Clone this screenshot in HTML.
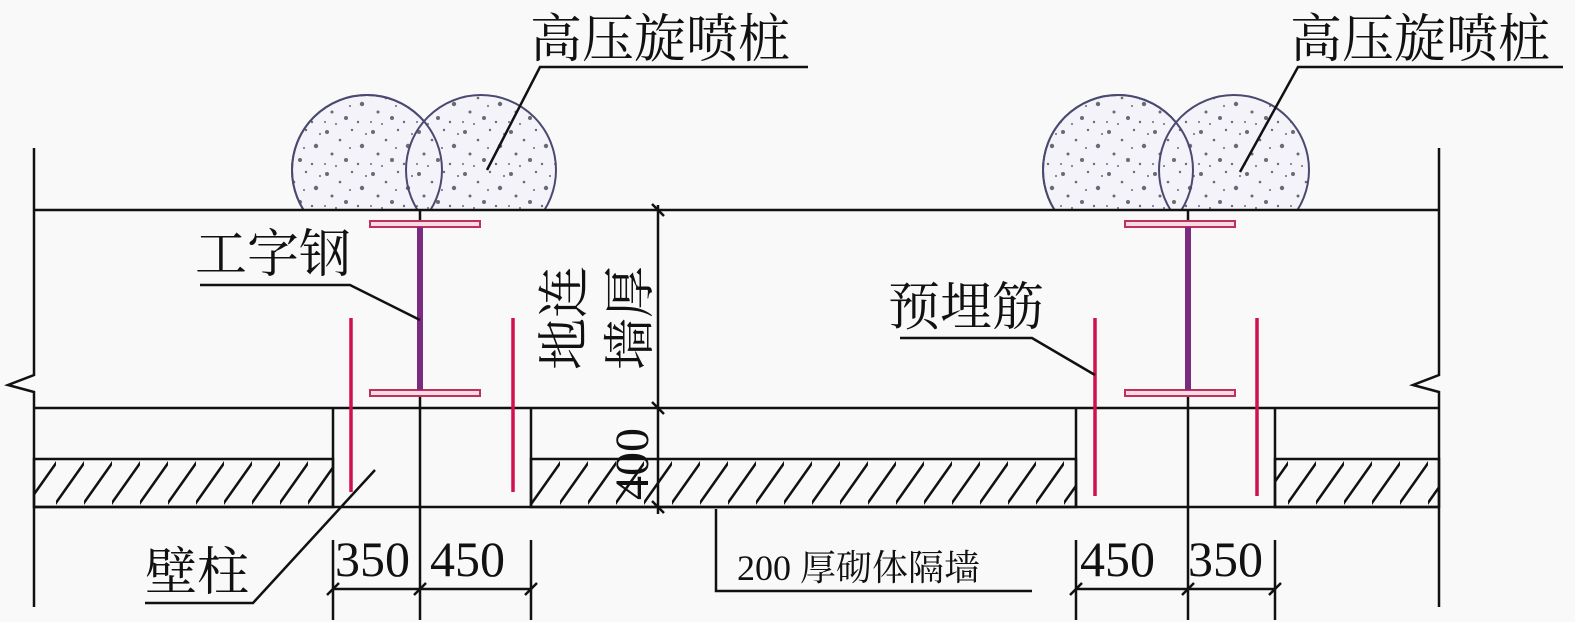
<!DOCTYPE html>
<html><head><meta charset="utf-8"><style>
html,body{margin:0;padding:0;background:#f9f9f9;}
svg{display:block;}
text{font-family:"Liberation Serif","Noto Serif CJK SC",serif;fill:#111;}
</style></head><body>
<svg width="1575" height="622" viewBox="0 0 1575 622" xmlns="http://www.w3.org/2000/svg">
<defs>
<pattern id="h" patternUnits="userSpaceOnUse" width="28" height="48" x="0" y="459">
<line x1="-10" y1="58" x2="38" y2="-10" stroke="#111" stroke-width="2.5"/>
</pattern>
<pattern id="d" patternUnits="userSpaceOnUse" width="46" height="42">
<rect width="46" height="42" fill="#f4f3f9"/>
<g fill="#6a6a72">
<circle cx="5" cy="6" r="2"/><circle cx="18" cy="14" r="1.3"/><circle cx="30" cy="4" r="1.2"/><circle cx="40" cy="20" r="2.2"/>
<circle cx="10" cy="28" r="1.5"/><circle cx="24" cy="34" r="2"/><circle cx="36" cy="38" r="1.2"/><circle cx="28" cy="22" r="1"/>
<circle cx="3" cy="38" r="1"/><circle cx="14" cy="40" r="1"/><circle cx="44" cy="8" r="1"/>
</g>
</pattern>
<clipPath id="c"><rect x="0" y="0" width="1575" height="210"/></clipPath>
</defs>
<g clip-path="url(#c)" stroke-width="2">
<circle cx="367" cy="170" r="75" fill="url(#d)" stroke="#4a4a70"/>
<circle cx="481" cy="170" r="75" fill="url(#d)" stroke="#4a4a70"/>
<circle cx="367" cy="170" r="75" fill="none" stroke="#4a4a70"/>
<circle cx="1118" cy="170" r="75" fill="url(#d)" stroke="#4a4a70"/>
<circle cx="1234" cy="170" r="75" fill="url(#d)" stroke="#4a4a70"/>
<circle cx="1118" cy="170" r="75" fill="none" stroke="#4a4a70"/>
</g>
<g stroke="#111" stroke-width="2.5" fill="none">
<polyline points="34,148 34,375 8,385 34,392 34,607"/>
<polyline points="1439,148 1439,375 1413,385 1439,392 1439,607"/>
<line x1="34" y1="210" x2="1439" y2="210"/>
<line x1="34" y1="408" x2="1439" y2="408"/>
<line x1="34" y1="507" x2="1439" y2="507"/>
<line x1="333" y1="408" x2="333" y2="507"/>
<line x1="531" y1="408" x2="531" y2="507"/>
<line x1="1076" y1="408" x2="1076" y2="507"/>
<line x1="1275" y1="408" x2="1275" y2="507"/>
<line x1="420" y1="210" x2="420" y2="620"/>
<line x1="1188" y1="210" x2="1188" y2="620"/>
</g>
<g stroke="#111" stroke-width="2.5">
<rect x="34" y="459" width="299" height="48" fill="url(#h)"/>
<rect x="531" y="459" width="545" height="48" fill="url(#h)"/>
<rect x="1275" y="459" width="164" height="48" fill="url(#h)"/>
</g>
<g>
<rect x="370" y="221" width="110" height="6" fill="#f7dbe6" stroke="#c0305a" stroke-width="2"/>
<rect x="370" y="390" width="110" height="6" fill="#f7dbe6" stroke="#c0305a" stroke-width="2"/>
<line x1="420" y1="227" x2="420" y2="390" stroke="#7a2d80" stroke-width="6"/>
<rect x="1125" y="221" width="110" height="6" fill="#f7dbe6" stroke="#c0305a" stroke-width="2"/>
<rect x="1125" y="390" width="110" height="6" fill="#f7dbe6" stroke="#c0305a" stroke-width="2"/>
<line x1="1188" y1="227" x2="1188" y2="390" stroke="#7a2d80" stroke-width="6"/>
</g>
<g stroke="#d2104e" stroke-width="3.5">
<line x1="351" y1="318" x2="351" y2="492"/>
<line x1="513" y1="318" x2="513" y2="492"/>
<line x1="1095" y1="318" x2="1095" y2="496"/>
<line x1="1257" y1="318" x2="1257" y2="496"/>
</g>
<g stroke="#111" stroke-width="2.5" fill="none">
<line x1="658" y1="205" x2="658" y2="514"/>
<line x1="652" y1="204" x2="664" y2="216"/>
<line x1="652" y1="402" x2="664" y2="414"/>
<line x1="652" y1="501" x2="664" y2="513"/>
<line x1="333" y1="540" x2="333" y2="620"/>
<line x1="531" y1="540" x2="531" y2="620"/>
<line x1="333" y1="589" x2="531" y2="589"/>
<line x1="327" y1="595" x2="339" y2="583"/><line x1="414" y1="595" x2="426" y2="583"/><line x1="525" y1="595" x2="537" y2="583"/>
<line x1="1076" y1="540" x2="1076" y2="620"/>
<line x1="1275" y1="540" x2="1275" y2="620"/>
<line x1="1076" y1="589" x2="1275" y2="589"/>
<line x1="1070" y1="595" x2="1082" y2="583"/><line x1="1182" y1="595" x2="1194" y2="583"/><line x1="1269" y1="595" x2="1281" y2="583"/>
<polyline points="808,67 540,67 487,170"/>
<polyline points="1563,67 1298,67 1240,172"/>
<polyline points="200,285 350,285 420,320"/>
<polyline points="900,338 1032,338 1095,375"/>
<polyline points="145,603 253,603 375,470"/>
<polyline points="716,509 716,591 1032,591"/>
</g>
<text x="530" y="57" font-size="52">高压旋喷桩</text>
<text x="1290" y="57" font-size="52">高压旋喷桩</text>
<text x="195" y="272" font-size="52">工字钢</text>
<text x="888" y="325" font-size="52">预埋筋</text>
<text x="145" y="590" font-size="52">壁柱</text>
<text x="737" y="580" font-size="36">200 厚砌体隔墙</text>
<text x="335" y="576" font-size="50">350</text>
<text x="430" y="576" font-size="50">450</text>
<text x="1080" y="576" font-size="50">450</text>
<text x="1188" y="576" font-size="50">350</text>
<text transform="translate(582,370) rotate(-90)" font-size="52">地连</text>
<text transform="translate(648,370) rotate(-90)" font-size="52">墙厚</text>
<text transform="translate(648,500) rotate(-90)" font-size="48">400</text>
</svg>
</body></html>
